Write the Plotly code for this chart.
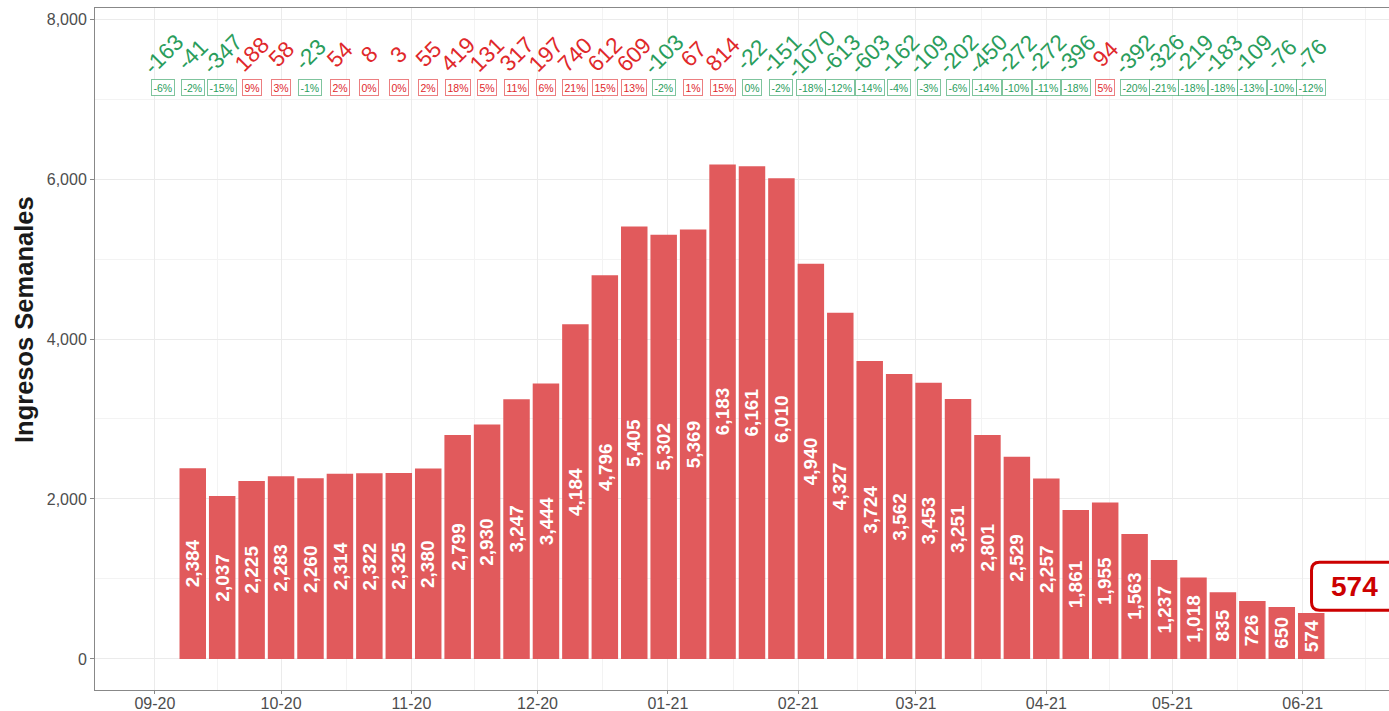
import plotly.graph_objects as go
import pandas as pd

# ---- data ----
week_dates = [
    "2020-09-03", "2020-09-10", "2020-09-17", "2020-09-24", "2020-10-01", "2020-10-08",
    "2020-10-15", "2020-10-22", "2020-10-29", "2020-11-05", "2020-11-12", "2020-11-19",
    "2020-11-26", "2020-12-03", "2020-12-10", "2020-12-17", "2020-12-24", "2020-12-31",
    "2021-01-07", "2021-01-14", "2021-01-21", "2021-01-28", "2021-02-04", "2021-02-11",
    "2021-02-18", "2021-02-25", "2021-03-04", "2021-03-11", "2021-03-18", "2021-03-25",
    "2021-04-01", "2021-04-08", "2021-04-15", "2021-04-22", "2021-04-29", "2021-05-06",
    "2021-05-13", "2021-05-20", "2021-05-27", "2021-06-03",
]
# weekly admissions (bars start at second week)
bar_dates = week_dates[1:]
ingresos = [2384, 2037, 2225, 2283, 2260, 2314, 2322, 2325, 2380, 2799, 2930, 3247, 3444,
            4184, 4796, 5405, 5302, 5369, 6183, 6161, 6010, 4940, 4327, 3724, 3562, 3453,
            3251, 2801, 2529, 2257, 1861, 1955, 1563, 1237, 1018, 835, 726, 650, 574]
cambio = [-163, -41, -347, 188, 58, -23, 54, 8, 3, 55, 419, 131, 317, 197, 740, 612, 609,
          -103, 67, 814, -22, -151, -1070, -613, -603, -162, -109, -202, -450, -272, -272,
          -396, 94, -392, -326, -219, -183, -109, -76, -76]
cambio_pct = [-6, -2, -15, 9, 3, -1, 2, 0, 0, 2, 18, 5, 11, 6, 21, 15, 13, -2, 1, 15, 0, -2,
              -18, -12, -14, -4, -3, -6, -14, -10, -11, -18, 5, -20, -21, -18, -18, -13, -10, -12]
month_ticks = ["2020-09-01", "2020-10-01", "2020-11-01", "2020-12-01", "2021-01-01",
               "2021-02-01", "2021-03-01", "2021-04-01", "2021-05-01", "2021-06-01"]
month_labels = ["09-20", "10-20", "11-20", "12-20", "01-21", "02-21", "03-21", "04-21",
                "05-21", "06-21"]

# ---- styles ----
BAR = "#E15A5C"
RED = "#E0282B"
GREEN = "#2A9D5C"
RED_B = "rgba(224,40,43,0.6)"
GREEN_B = "rgba(42,157,92,0.6)"
FONT = "Liberation Sans, Arial, sans-serif"

fig = go.Figure()
fig.add_trace(go.Bar(x=bar_dates, y=ingresos, marker=dict(color=BAR, line=dict(width=0)),
                     hoverinfo="x+y"))

ann = []
# bar labels (rotated, at mid height)
for d, v in zip(bar_dates, ingresos):
    ann.append(dict(x=d, y=v / 2, text=f"{v:,}", textangle=-90, showarrow=False,
                    font=dict(color="white", size=19, family=FONT, weight="bold"),
                    xanchor="center", yanchor="middle"))

# change labels and percentage boxes
Y_CHG = 7560
Y_PCT = 7150
for d, c, p in zip(week_dates, cambio, cambio_pct):
    col = GREEN if c < 0 else RED
    bcol = GREEN_B if c < 0 else RED_B
    ann.append(dict(x=d, y=Y_CHG, text=str(c), textangle=-45, showarrow=False,
                    font=dict(color=col, size=22.5, family=FONT)))
    ann.append(dict(x=d, y=Y_PCT, text=f"{p}%", showarrow=False,
                    font=dict(color=col, size=10.5, family=FONT),
                    bordercolor=bcol, borderwidth=1, borderpad=1.5, bgcolor="white"))

# y axis title
ann.append(dict(xref="paper", yref="paper", x=0, y=0.5425, xshift=-71,
                text="<b>Ingresos Semanales</b>", textangle=-90, showarrow=False,
                xanchor="center", yanchor="middle",
                font=dict(size=25.5, color="#1A1A1A", family=FONT)))

# last value callout
last_x = pd.Timestamp(bar_dates[-1]) + pd.Timedelta(days=10.3)
last_y = 910
ann.append(dict(x=last_x, y=last_y, text=f"{ingresos[-1]:,}", showarrow=False,
                font=dict(color="#CC0000", size=28, family=FONT, weight="bold"),
                xanchor="center", yanchor="middle"))

shapes = [dict(type="path", xref="x", yref="y", xsizemode="pixel", ysizemode="pixel",
               xanchor=last_x, yanchor=last_y,
               path="M -35,-24 L 35,-24 Q 43,-24 43,-16 L 43,16 Q 43,24 35,24 L -35,24 "
                    "Q -43,24 -43,16 L -43,-16 Q -43,-24 -35,-24 Z",
               line=dict(color="#CC0000", width=3), fillcolor="white", layer="above")]

# minor (mid-month) grid positions
mt = pd.to_datetime(["2020-08-01"] + month_ticks + ["2021-07-01"])
minor_vals = [mt[i] + (mt[i + 1] - mt[i]) / 2 for i in range(len(mt) - 1)]

fig.update_layout(
    width=1389, height=711,
    margin=dict(l=95, r=0, t=8, b=21, autoexpand=False),
    paper_bgcolor="white", plot_bgcolor="white",
    showlegend=False, bargap=0.1,
    annotations=ann, shapes=shapes,
    font=dict(family=FONT),
)
fig.update_xaxes(
    type="date", range=["2020-08-17 18:00", "2021-06-21 12:00"],
    tickvals=month_ticks, ticktext=month_labels,
    tickfont=dict(size=16, color="#4D4D4D", family=FONT),
    ticks="outside", ticklen=3, tickcolor="#888", ticklabelstandoff=-4,
    showgrid=True, gridcolor="#EBEBEB", gridwidth=1,
    minor=dict(tickvals=minor_vals, showgrid=True, gridcolor="#F3F3F3", ticklen=0),
    showline=True, linecolor="#888", linewidth=1, mirror=True,
    zeroline=False, automargin=False,
)
fig.update_yaxes(
    range=[-388, 8138],
    tickvals=[0, 2000, 4000, 6000, 8000], tickformat=",",
    tickfont=dict(size=16, color="#4D4D4D", family=FONT),
    ticks="outside", ticklen=4, tickcolor="#888",
    showgrid=True, gridcolor="#EBEBEB", gridwidth=1,
    minor=dict(dtick=1000, showgrid=True, gridcolor="#F3F3F3", ticklen=0),
    showline=True, linecolor="#888", linewidth=1,
    zeroline=False, automargin=False,
)

fig.write_html("out.html", config={"displayModeBar": False},
               post_script="document.body.style.margin='0';document.body.style.overflow='hidden';")
